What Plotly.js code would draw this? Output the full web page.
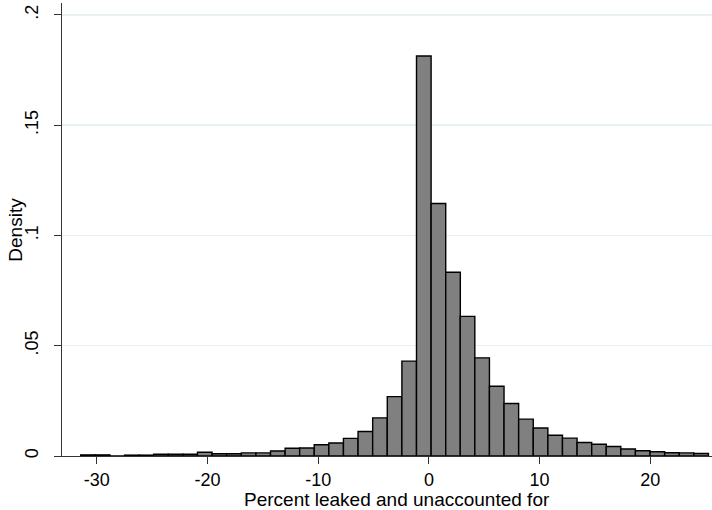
<!DOCTYPE html>
<html>
<head>
<meta charset="utf-8">
<script src="https://cdn.plot.ly/plotly-3.0.1.min.js"></script>
<style>html,body{margin:0;padding:0;background:#fff;}#chart{width:712px;height:510px;}</style>
</head>
<body>
<div id="chart"></div>
<script>
// Bin centers (percent leaked and unaccounted for)
const binCenters = [-30.80, -29.48, -28.16, -26.84, -25.52, -24.21, -22.89, -21.57, -20.25, -18.93,
  -17.61, -16.29, -14.97, -13.65, -12.33, -11.02, -9.70, -8.38, -7.06, -5.74,
  -4.42, -3.10, -1.78, -0.46, 0.86, 2.18, 3.49, 4.81, 6.13, 7.45,
  8.77, 10.09, 11.41, 12.73, 14.05, 15.37, 16.68, 18.00, 19.32, 20.64,
  21.96, 23.28, 24.60];
const binWidth = 1.319;
// Density per bin
const density = [0.0005, 0.0005, 0.0000, 0.0004, 0.0004, 0.0008, 0.0008, 0.0008, 0.0017, 0.0010,
  0.0010, 0.0014, 0.0014, 0.0023, 0.0035, 0.0036, 0.0051, 0.0059, 0.0080, 0.0111,
  0.0173, 0.0269, 0.0430, 0.1814, 0.1145, 0.0833, 0.0633, 0.0445, 0.0316, 0.0238,
  0.0167, 0.0127, 0.0094, 0.0081, 0.0061, 0.0053, 0.0043, 0.0032, 0.0024, 0.0019,
  0.0015, 0.0014, 0.0011];
const yTickVals = [0, 0.05, 0.1, 0.15, 0.2];
const yTickText = ['0', '.05', '.1', '.15', '.2'];
const xTickVals = [-30, -20, -10, 0, 10, 20];
const xTickText = ['-30', '-20', '-10', '0', '10', '20'];
const xTitle = 'Percent leaked and unaccounted for';
const yTitle = 'Density';

const font = 'Liberation Sans, Arial, sans-serif';

const trace = {
  type: 'bar',
  x: binCenters,
  y: density,
  width: binWidth,
  marker: {color: '#808080', line: {color: '#000000', width: 1.4}},
  hoverinfo: 'x+y'
};

const layout = {
  width: 712, height: 510,
  margin: {l: 62, r: 0, t: 3, b: 54, pad: 0},
  paper_bgcolor: '#ffffff', plot_bgcolor: '#ffffff',
  font: {family: font, size: 18, color: '#000'},
  showlegend: false,
  bargap: 0,
  xaxis: {
    range: [-33.15, 25.58],
    tickmode: 'array', tickvals: xTickVals, ticktext: xTickText,
    ticks: 'outside', ticklen: 7, tickwidth: 1, tickcolor: '#333',
    showline: true, linecolor: '#333', linewidth: 1,
    showgrid: false, zeroline: false,
    ticklabelstandoff: 0,
    tickfont: {family: font, size: 18, color: '#000'}
  },
  yaxis: {
    range: [0, 0.2054],
    tickmode: 'array', tickvals: yTickVals, ticktext: yTickText,
    ticks: 'outside', ticklen: 7, tickwidth: 1, tickcolor: '#333',
    tickangle: -90,
    showline: true, linecolor: '#333', linewidth: 1,
    showgrid: true, gridcolor: '#e8f0f1', gridwidth: 1.5,
    zeroline: false,
    ticklabelstandoff: 9,
    tickfont: {family: font, size: 18, color: '#000'}
  },
  annotations: [{
    text: xTitle, xref: 'paper', yref: 'paper', x: 0.515, y: 0,
    xanchor: 'center', yanchor: 'top', yshift: -31, showarrow: false,
    font: {family: font, size: 19, color: '#000'}
  }, {
    text: yTitle, xref: 'paper', yref: 'paper', x: -0.072, y: 0.5,
    xanchor: 'center', yanchor: 'middle', textangle: -90, showarrow: false,
    font: {family: font, size: 19, color: '#000'}
  }]
};

Plotly.newPlot('chart', [trace], layout, {displayModeBar: false, staticPlot: true});
</script>
</body>
</html>
